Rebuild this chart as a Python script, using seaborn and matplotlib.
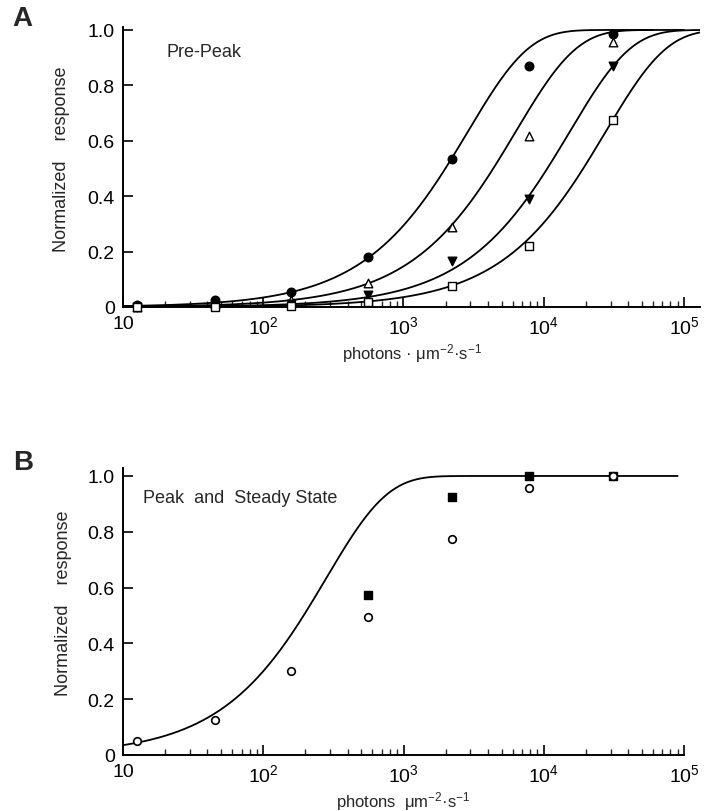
import numpy as np
import pandas as pd
import matplotlib
matplotlib.use("Agg")
import matplotlib.pyplot as plt
import seaborn as sns
from matplotlib.ticker import LogLocator, FixedLocator, NullFormatter, FixedFormatter

# ---------------- data ----------------
intensity = [12.6, 45, 158, 560, 2200, 7800, 31000]

# Panel A (Pre-Peak)
pre_circle = [0.008, 0.025, 0.055, 0.18, 0.535, 0.87, 0.985]
pre_triangle = [0.0, 0.01, 0.024, 0.087, 0.29, 0.617, 0.955]
pre_down = [0.0, 0.005, 0.012, 0.043, 0.166, 0.39, 0.87]
pre_square = [0.0, 0.0, 0.002, 0.018, 0.076, 0.22, 0.675]

# saturating-exponential fit constants (half-saturation scale) and curve end points
fit_I0_A = [2870, 6300, 15300, 27600]
fit_end_A = [6.0e4, 1.0e5, 1.3e5, 1.3e5]

# Panel B (Peak and Steady State)
peak_x = [560, 2200, 7800, 31000]
peak_sq = [0.573, 0.925, 1.0, 1.0]
steady_circle = [0.05, 0.125, 0.30, 0.495, 0.774, 0.957, 1.0]
fit_I0_B = 280
fit_end_B = 9.0e4

xtick_vals = [10, 100, 1000, 10000, 100000]
xtick_labels = ["10", "10$^2$", "10$^3$", "10$^4$", "10$^5$"]
ytick_vals = [0, 0.2, 0.4, 0.6, 0.8, 1.0]
ytick_labels = ["0", "0.2", "0.4", "0.6", "0.8", "1.0"]

# ---------------- style ----------------
sns.set_style("ticks")
plt.rcParams["font.family"] = ["Liberation Sans", "DejaVu Sans"]
plt.rcParams["mathtext.fontset"] = "custom"
plt.rcParams["mathtext.rm"] = "Liberation Sans"
plt.rcParams["mathtext.it"] = "Liberation Sans:italic"

fig = plt.figure(figsize=(7.04, 8.12), dpi=100)
axA = fig.add_axes([0.1747, 0.6207, 0.8196, 0.3446])
axB = fig.add_axes([0.1747, 0.0690, 0.7970, 0.3539])


def fit_curve(I0, end):
    x = np.logspace(1, np.log10(end), 400)
    return x, 1 - np.exp(-x / I0)


def style_axis(ax, xmax, ymax):
    ax.set_xscale("log")
    ax.set_xlim(10, xmax)
    ax.set_ylim(0, ymax)
    for s in ["top", "right"]:
        ax.spines[s].set_visible(False)
    for s in ["left", "bottom"]:
        ax.spines[s].set_linewidth(1.4)
        ax.spines[s].set_color("black")
    ax.xaxis.set_major_locator(FixedLocator(xtick_vals))
    ax.xaxis.set_major_formatter(FixedFormatter(xtick_labels))
    ax.xaxis.set_minor_locator(LogLocator(base=10, subs=np.arange(2, 10)))
    ax.xaxis.set_minor_formatter(NullFormatter())
    ax.yaxis.set_major_locator(FixedLocator(ytick_vals))
    ax.yaxis.set_major_formatter(FixedFormatter(ytick_labels))
    ax.tick_params(axis="both", which="major", direction="in", length=7,
                   width=1.2, labelsize=14, colors="black", pad=6)
    ax.tick_params(axis="x", which="minor", direction="in", length=4, width=1.0)
    ax.tick_params(axis="y", which="minor", left=False)
    ax.set_ylabel("Normalized    response", fontsize=13, labelpad=10)
    ax.yaxis.set_label_coords(-0.091, 0.53)
    ax.grid(False)


# ---------------- panel A ----------------
for I0, end in zip(fit_I0_A, fit_end_A):
    cx, cy = fit_curve(I0, end)
    sns.lineplot(x=cx, y=cy, ax=axA, color="black", lw=1.3, estimator=None, sort=False)

marker_specs_A = [
    (pre_circle, "o", "black"),
    (pre_triangle, "^", "white"),
    (pre_down, "v", "black"),
    (pre_square, "s", "white"),
]
for vals, m, fc in marker_specs_A:
    sns.scatterplot(x=intensity, y=vals, ax=axA, marker=m, s=38, color=fc,
                    edgecolor="black", linewidth=1.0, zorder=5, clip_on=False)

style_axis(axA, 1.3e5, 1.01)
axA.set_xlabel("photons · μm$^{-2}$·s$^{-1}$", fontsize=12, labelpad=3)
axA.text(0.075, 0.912, "Pre-Peak", transform=axA.transAxes, fontsize=13,
         ha="left", va="center")
fig.text(0.018, 0.977, "A", fontsize=20, fontweight="bold", ha="left", va="center")

# ---------------- panel B ----------------
cx, cy = fit_curve(fit_I0_B, fit_end_B)
sns.lineplot(x=cx, y=cy, ax=axB, color="black", lw=1.3, estimator=None, sort=False)
sns.scatterplot(x=peak_x, y=peak_sq, ax=axB, marker="s", s=34, color="black",
                edgecolor="black", linewidth=1.0, zorder=5, clip_on=False)
sns.scatterplot(x=intensity, y=steady_circle, ax=axB, marker="o", s=30, color="white",
                edgecolor="black", linewidth=1.2, zorder=6, clip_on=False)

style_axis(axB, 1.0e5, 1.03)
axB.set_xlabel("photons  μm$^{-2}$·s$^{-1}$", fontsize=12, labelpad=3)
axB.text(0.036, 0.895, "Peak  and  Steady State", transform=axB.transAxes, fontsize=13,
         ha="left", va="center")
fig.text(0.018, 0.430, "B", fontsize=20, fontweight="bold", ha="left", va="center")

for ax in (axA, axB):
    leg = ax.get_legend()
    if leg is not None:
        leg.remove()

fig.savefig("out.png", dpi=100)
